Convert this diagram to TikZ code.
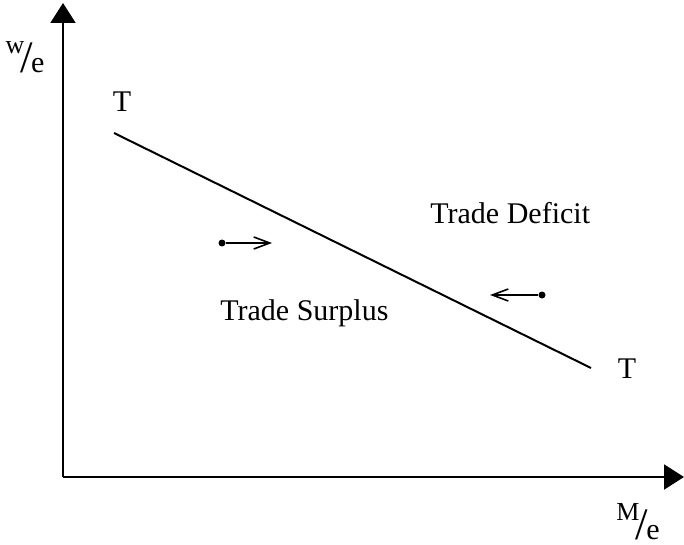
\documentclass[tikz,border=0pt]{standalone}
\usepackage{fontspec}
\setmainfont{Liberation Serif}
\usepackage{graphicx}
\usetikzlibrary{arrows.meta}

\newcommand{\perunit}[2]{\raisebox{9.5pt}{\fontsize{13}{15}\selectfont #1}\kern-2pt\scalebox{1.5}{/}\kern-0.8pt{\fontsize{15}{17}\selectfont #2}}

\begin{document}
\begin{tikzpicture}[x=0.5pt, y=-0.5pt,
  lbl/.style={font=\fontsize{15}{18}\selectfont, inner sep=0pt},
  axis/.style={line width=1pt, -{Triangle[length=10pt, width=12.5pt]}},
  move/.style={line width=0.8pt, -{Straight Barb[length=8pt, width=6pt]}},
  dot/.style={circle, fill=black, inner sep=0pt, minimum size=3.5pt}]
\useasboundingbox (0,0) rectangle (684,545);
% axes
\coordinate (o) at (63,477);
\coordinate (ytop) at (63,3);
\coordinate (xend) at (684,477);
\draw[axis] (o) -- (ytop);
\draw[axis] (o) -- (xend);
\node[lbl] (ylab) at (25,57) {\perunit{w}{e}};
\node[lbl] (xlab) at (638,522) {\perunit{M}{e}};
% TT schedule
\coordinate (t1) at (114,133);
\coordinate (t2) at (591,368);
\draw[line width=1pt] (t1) -- (t2);
\node[lbl, anchor=base] (tl) at (122,112) {T};
\node[lbl, anchor=base] (tr) at (627,378) {T};
% regions
\node[lbl, anchor=base west] (deficit) at (430,223) {Trade Deficit};
\node[lbl, anchor=base west] (surplus) at (220,320) {Trade Surplus};
% adjustment arrows
\node[dot] (p1) at (222,243) {};
\coordinate (q1) at (272,243);
\draw[move] (p1) -- (q1);
\node[dot] (p2) at (542,295) {};
\coordinate (q2) at (490,295);
\draw[move] (p2) -- (q2);
\end{tikzpicture}
\end{document}
